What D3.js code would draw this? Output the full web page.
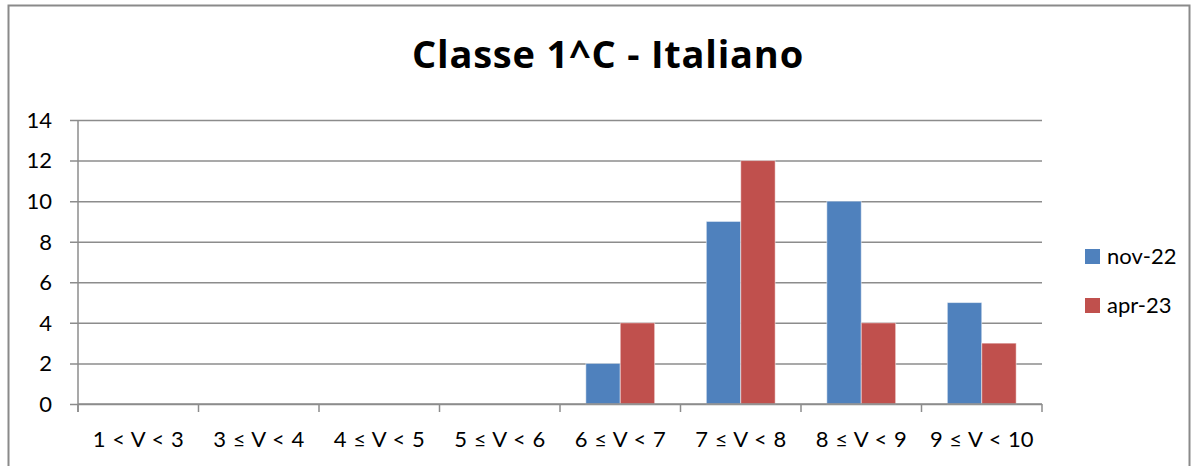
<!DOCTYPE html>
<html>
<head>
<meta charset="utf-8">
<script src="https://cdn.jsdelivr.net/npm/d3@7"></script>
<style>
  html, body { margin: 0; padding: 0; background: #fff; }
  svg { display: block; }
  text { font-family: Lato, "Open Sans", sans-serif; fill: #000; }
</style>
</head>
<body>
<svg id="chart" width="1195" height="466"></svg>
<script>
const categories = ["1 < V < 3", "3 \u2264 V < 4", "4 \u2264 V < 5", "5 \u2264 V < 6", "6 \u2264 V < 7", "7 \u2264 V < 8", "8 \u2264 V < 9", "9 \u2264 V < 10"];
const seriesNames = ["nov-22", "apr-23"];
const nov22 = [0, 0, 0, 0, 2, 9, 10, 5];
const apr23 = [0, 0, 0, 0, 4, 12, 4, 3];
const yTicks = [0, 2, 4, 6, 8, 10, 12, 14];
const titleText = "Classe 1^C - Italiano";
const colors = ["#4F81BD", "#C0504D"];

(function () {
const seriesValues = [nov22, apr23];
const svg = d3.select("#chart");

// outer border
svg.append("rect")
  .attr("x", 8.5).attr("y", 5.5)
  .attr("width", 1181).attr("height", 500)
  .attr("fill", "none").attr("stroke", "#8a8a8a").attr("stroke-width", 2);

const pLeft = 78, pRight = 1042, pTop = 120, pBottom = 404;

const x = d3.scaleBand().domain(categories).range([pLeft, pRight]).paddingInner(0).paddingOuter(0);
const xs = d3.scaleBand().domain(seriesNames).range([0, x.bandwidth()]).paddingInner(0).paddingOuter(0.75);
const y = d3.scaleLinear().domain([0, 14]).range([pBottom, pTop]);

const gridColor = "#8c8c8c";

// gridlines + y ticks
const gy = svg.append("g").attr("transform", `translate(${pRight},0)`);
gy.call(d3.axisLeft(y).tickValues(yTicks).tickSize(pRight - pLeft + 8).tickFormat(""));
gy.select(".domain").remove();
gy.selectAll(".tick line").attr("stroke", gridColor).attr("stroke-width", 1.5);

// y labels
svg.append("g").selectAll("text").data(yTicks).join("text")
  .attr("x", 52).attr("y", d => y(d))
  .attr("dy", "0.36em")
  .attr("text-anchor", "end")
  .style("font-size", "22px")
  .text(d => d);

// y axis line
svg.append("line")
  .attr("x1", pLeft).attr("x2", pLeft)
  .attr("y1", pTop).attr("y2", pBottom + 8)
  .attr("stroke", gridColor).attr("stroke-width", 1.5);

// bars
const groups = svg.append("g").selectAll("g").data(categories).join("g")
  .attr("transform", d => `translate(${x(d)},0)`);
groups.selectAll("rect")
  .data((d, i) => seriesNames.map((s, j) => ({ s, v: seriesValues[j][i], j })))
  .join("rect")
  .attr("x", d => xs(d.s))
  .attr("width", xs.bandwidth())
  .attr("y", d => y(d.v))
  .attr("height", d => y(0) - y(d.v))
  .attr("fill", d => colors[d.j])
  .attr("stroke", d => d.v > 0 ? "rgba(255,255,255,0.5)" : "none")
  .attr("stroke-width", 1);

// x axis
const gx = svg.append("g").attr("transform", `translate(0,${pBottom})`);
const boundaries = categories.map(c => x(c)).concat([pRight]);
gx.append("line").attr("x1", pLeft).attr("x2", pRight).attr("y1", 0).attr("y2", 0)
  .attr("stroke", gridColor).attr("stroke-width", 1.5);
gx.selectAll("line.tk").data(boundaries).join("line").attr("class", "tk")
  .attr("x1", d => d).attr("x2", d => d).attr("y1", 0).attr("y2", 8)
  .attr("stroke", gridColor).attr("stroke-width", 1.5);
gx.selectAll("text").data(categories).join("text")
  .attr("x", d => x(d) + x.bandwidth() / 2)
  .attr("y", 43)
  .attr("text-anchor", "middle")
  .style("font-size", "22px")
  .style("word-spacing", "1px")
  .text(d => d);

// title
svg.append("text")
  .attr("x", 608).attr("y", 68)
  .attr("text-anchor", "middle")
  .style("font-family", "'Open Sans', Lato, sans-serif")
  .style("font-size", "38px")
  .style("letter-spacing", "0.8px")
  .style("font-weight", "bold")
  .text(titleText);

// legend
const lg = svg.append("g").selectAll("g").data(seriesNames).join("g")
  .attr("transform", (d, i) => `translate(1085,${249 + i * 49})`);
lg.append("rect").attr("width", 15).attr("height", 15).attr("fill", (d, i) => colors[i]);
lg.append("text").attr("x", 22).attr("y", 7.5).attr("dy", "0.36em")
  .style("font-size", "22px").text(d => d);
})();
</script>
</body>
</html>
